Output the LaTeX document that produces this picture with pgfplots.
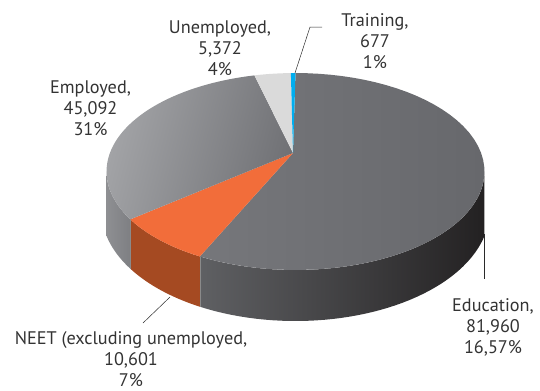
\documentclass[border=0pt]{standalone}
\usepackage{fontspec}
\setmainfont{PT Sans}
\usepackage{pgfplots}
\pgfplotsset{compat=1.18}

% Cohort counts, clockwise from twelve o'clock
\def\valEdu{81960}
\def\valNeet{10601}
\def\valEmp{45092}
\def\valUnemp{5372}
\def\valTrain{677}
\edef\valTotal{\fpeval{\valEdu+\valNeet+\valEmp+\valUnemp+\valTrain}}

% Cumulative sweep angles, in degrees clockwise from the top
\edef\angA{\fpeval{\valEdu/\valTotal*360}}
\edef\angB{\fpeval{\angA+\valNeet/\valTotal*360}}
\edef\angC{\fpeval{\angB+\valEmp/\valTotal*360}}
\edef\angD{\fpeval{\angC+\valUnemp/\valTotal*360}}

% Perspective projection of the disc's rim, and the lower rim of its wall
\newcommand\rimX[1]{\fpeval{round(295.5+185.6*sind(#1)/(1+0.188*cosd(#1)),2)}}
\newcommand\rimY[1]{\fpeval{round(153-95*cosd(#1)/(1+0.188*cosd(#1)),2)}}
\newcommand\baseY[1]{\fpeval{round(211+110*sqrt(1-((\rimX{#1}-295.5)/194)^2),2)}}

% Collects the points of an arc into \rimpts and, reversed, \basepts
\newcommand\buildarc[2]{%
  \gdef\rimpts{}\gdef\basepts{}%
  \foreach \i in {0,...,48}{%
    \edef\t{\fpeval{#1+(#2-#1)*\i/48}}%
    \xdef\rimpts{\rimpts (\rimX{\t},\rimY{\t})}%
    \xdef\basepts{(\rimX{\t},\baseY{\t}) \basepts}%
  }}
\newcommand\topwedge[3]{%
  \buildarc{#1}{#2}%
  \edef\cmd{\noexpand\addplot[draw=none,#3] coordinates {(293,153) \rimpts (293,153)};}\cmd}
\newcommand\sidewall[3]{%
  \buildarc{#1}{#2}%
  \edef\cmd{\noexpand\addplot[draw=none,#3] coordinates {\rimpts \basepts};}\cmd}

\definecolor{txt}{HTML}{333333}
\definecolor{leader}{HTML}{2A2A2A}
\definecolor{wallA}{HTML}{5F6063}
\definecolor{wallB}{HTML}{3C3C3E}
\definecolor{wallC}{HTML}{232122}
\definecolor{wallD}{HTML}{7E7F83}
\definecolor{wallE}{HTML}{8E8F92}
\definecolor{wallNeet}{HTML}{A54A22}
\definecolor{topEduL}{HTML}{76777B}
\definecolor{topEduR}{HTML}{67686C}
\definecolor{topEmpL}{HTML}{A3A4A7}
\definecolor{topEmpR}{HTML}{707175}
\definecolor{topNeet}{HTML}{F26D3A}
\definecolor{topUnemp}{HTML}{DADADA}
\definecolor{topTrain}{HTML}{00AEEF}
\definecolor{seam}{HTML}{8A8A8A}

\tikzset{lbl/.style={font=\fontsize{18.3}{21}\selectfont, text=txt, align=center, inner sep=0pt}}

\begin{document}
\begin{tikzpicture}
\begin{axis}[
  scale only axis, width=540bp, height=390bp,
  xmin=0, xmax=540, ymin=0, ymax=390, y dir=reverse,
  hide axis, clip=false,
]
% Keeps the full plotting area as the picture's extent
\path (axis cs:0,0) rectangle (axis cs:540,390);
% Wall of the disc
\sidewall{100.8}{\angA}{left color=wallC,middle color=wallB,right color=wallA,shading angle=270}
\sidewall{\angA}{\angB}{fill=wallNeet}
\sidewall{\angB}{259.2}{left color=wallE,right color=wallD}
% Seams between the wall sections
\addplot[seam,line width=0.4pt] coordinates {(\rimX{\angA},\rimY{\angA}) (\rimX{\angA},\baseY{\angA})};
\addplot[seam,line width=0.4pt] coordinates {(\rimX{\angB},\rimY{\angB}) (\rimX{\angB},\baseY{\angB})};
% Top face
\topwedge{0}{\angA}{left color=topEduL,right color=topEduR}
\topwedge{\angA}{\angB}{fill=topNeet}
\topwedge{\angB}{\angC}{left color=topEmpL,right color=topEmpR,shading angle=75}
\topwedge{\angC}{\angD}{fill=topUnemp}
\topwedge{\angD}{360}{fill=topTrain}
% Leader lines
\addplot[leader,line width=0.5pt] coordinates {(295,73) (310,27) (322,27)};
\addplot[leader,line width=0.5pt] coordinates {(484.3,234) (484.3,279)};
\addplot[leader,line width=0.5pt] coordinates {(170,297) (143,323)};
% Labels
\node[lbl] at (axis cs:220,48) {Unemployed,\\5,372\\4\%};
\node[lbl] at (axis cs:375,41) {Training,\\677\\1\%};
\node[lbl] at (axis cs:90.5,108) {Employed,\\45,092\\31\%};
\node[lbl] at (axis cs:493,327) {Education,\\81,960\\16,57\%};
\node[lbl] at (axis cs:131,359) {NEET (excluding unemployed,\\10,601\\7\%};
\end{axis}
\end{tikzpicture}
\end{document}
